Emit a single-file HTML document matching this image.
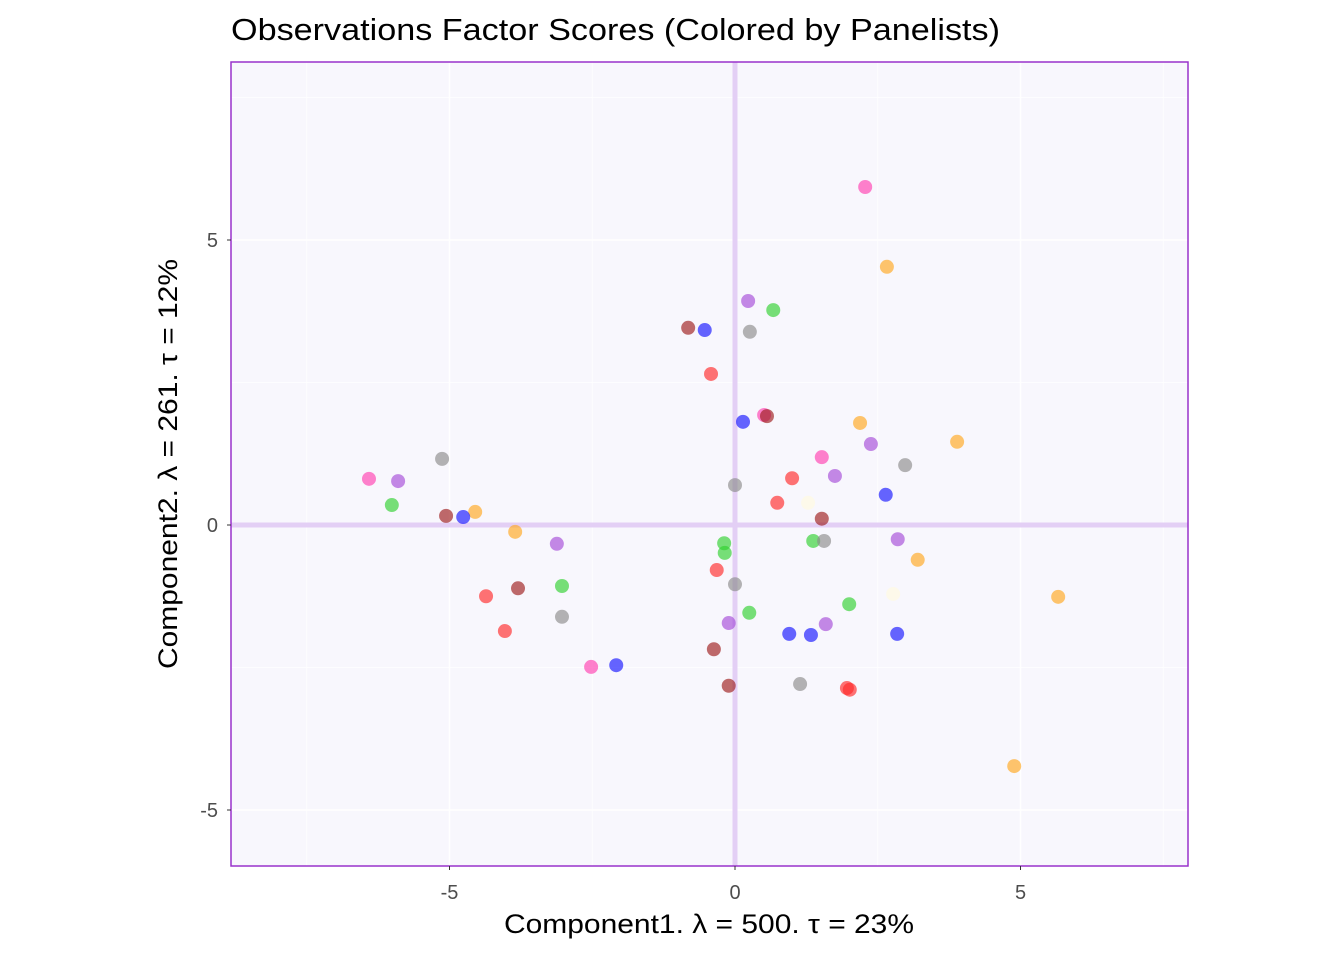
<!DOCTYPE html>
<html><head><meta charset="utf-8"><style>
body{margin:0;background:#fff;}
svg{display:block;font-family:"Liberation Sans",sans-serif;}
</style></head><body>
<svg id="chart" width="1344" height="960">
<text x="231" y="40" font-size="31" textLength="769" lengthAdjust="spacingAndGlyphs" fill="#000">Observations Factor Scores (Colored by Panelists)</text>
<rect x="231" y="62" width="957" height="804" fill="#f8f7fd"/>
<g id="grid"></g>
<g id="points"></g>
<rect x="231" y="62" width="957" height="804" fill="none" stroke="#9932cc" stroke-width="1.5"/>
<g id="ticks"></g>
<text x="504" y="933" font-size="27" textLength="410" lengthAdjust="spacingAndGlyphs">Component1.   λ = 500.  τ = 23%</text>
<text transform="translate(177,669) rotate(-90)" font-size="27" textLength="410" lengthAdjust="spacingAndGlyphs">Component2.   λ = 261.  τ = 12%</text>
</svg>
<script>
const series = ["pink","orange","purple","green","brown","blue","gray","red","ivory"];
const seriesColors = ["#ff3fb0","#ffa81e","#a54bd8","#2fd12f","#9c1c1c","#1414ff","#8c8c8c","#ff2a2a","#fffbe0"];
const xValues = [
 [2.28,-6.41,-2.52,1.52,0.51],
 [2.66,-4.55,-3.85,2.19,3.89,3.20,5.66,4.89],
 [0.23,-5.90,-3.12,2.38,1.75,2.85,-0.11,1.59],
 [0.67,-6.01,-3.03,-0.19,-0.18,1.37,0.25,2.00],
 [-0.82,-5.06,-3.80,0.56,1.52,-0.37,-0.11],
 [-0.53,0.14,-4.76,2.64,-2.08,0.95,1.33,2.84],
 [0.26,-5.13,0,2.98,1.56,0,-3.03,1.14],
 [-0.42,0.74,1.00,-0.32,-4.36,-4.03,1.96,2.01],
 [1.28,2.77]
];
const yValues = [
 [5.93,0.81,-2.49,1.19,1.93],
 [4.53,0.23,-0.12,1.79,1.46,-0.61,-1.26,-4.23],
 [3.93,0.77,-0.33,1.42,0.86,-0.25,-1.72,-1.74],
 [3.77,0.35,-1.07,-0.32,-0.49,-0.28,-1.54,-1.39],
 [3.46,0.16,-1.11,1.91,0.11,-2.18,-2.82],
 [3.42,1.81,0.14,0.53,-2.46,-1.91,-1.93,-1.91],
 [3.39,1.16,0.70,1.05,-0.28,-1.04,-1.61,-2.79],
 [2.65,0.39,0.82,-0.79,-1.25,-1.86,-2.86,-2.89],
 [0.39,-1.21]
];
const xTicks = [-5,0,5];
const yTicks = [-5,0,5];
const xMinor = [-7.5,-2.5,2.5,7.5];
const yMinor = [-2.5,2.5,7.5];

const NS="http://www.w3.org/2000/svg";
const X = v => 735 + v*57.1;
const Y = v => 525 - v*57;
const L = {x0:231,x1:1188,y0:62,y1:866};
function mk(tag, attrs, parent){const e=document.createElementNS(NS,tag);for(const k in attrs)e.setAttribute(k,attrs[k]);parent.appendChild(e);return e;}
const grid=document.getElementById('grid'), pts=document.getElementById('points'), tk=document.getElementById('ticks');
xMinor.forEach(v=>{const l=mk('line',{x1:X(v),x2:X(v),y1:L.y0,y2:L.y1,stroke:'#fff','stroke-width':0.8},grid);

});
yMinor.forEach(v=>{const l=mk('line',{y1:Y(v),y2:Y(v),x1:L.x0,x2:L.x1,stroke:'#fff','stroke-width':0.8},grid);

});
xTicks.forEach(v=>{const l=mk('line',{x1:X(v),x2:X(v),y1:L.y0,y2:L.y1,stroke:'#fff','stroke-width':1.5},grid);


const t=mk('line',{x1:X(v),x2:X(v),y1:L.y1,y2:L.y1+4,stroke:'#333','stroke-width':1},tk);


const s=mk('text',{x:X(v),y:L.y1+33,'font-size':20,'text-anchor':'middle',fill:'#4d4d4d'},tk);s.textContent=v;

});
yTicks.forEach(v=>{const l=mk('line',{y1:Y(v),y2:Y(v),x1:L.x0,x2:L.x1,stroke:'#fff','stroke-width':1.5},grid);


const t=mk('line',{y1:Y(v),y2:Y(v),x1:L.x0-4,x2:L.x0,stroke:'#333','stroke-width':1},tk);


const s=mk('text',{x:L.x0-13,y:Y(v)+7,'font-size':20,'text-anchor':'end',fill:'#4d4d4d'},tk);s.textContent=v;

});
const zx=mk('line',{x1:X(0),x2:X(0),y1:L.y0,y2:L.y1,stroke:'#e3cff5','stroke-width':5},grid);


const zy=mk('line',{x1:L.x0,x2:L.x1,y1:Y(0),y2:Y(0),stroke:'#e3cff5','stroke-width':5},grid);


series.forEach((s,i)=>{xValues[i].forEach((xv,j)=>{
 const c=mk('circle',{cx:X(xv),cy:Y(yValues[i][j]),r:7,fill:seriesColors[i],'fill-opacity':0.65},pts);
 
 
});});
</script>
</body></html>
